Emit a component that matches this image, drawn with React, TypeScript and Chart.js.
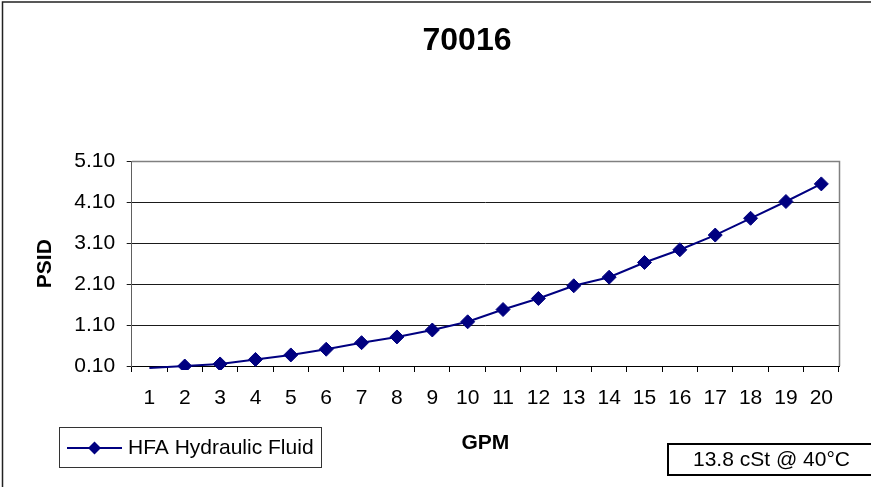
import React, { useEffect, useRef } from "react";
import { Chart, registerables } from "chart.js";

Chart.register(...registerables);

// ---- data ----
const gpmLabels = ["1", "2", "3", "4", "5", "6", "7", "8", "9", "10", "11", "12", "13", "14", "15", "16", "17", "18", "19", "20"];
const psidValues = [0.05, 0.1, 0.15, 0.26, 0.37, 0.51, 0.67, 0.81, 0.98, 1.18, 1.48, 1.75, 2.06, 2.27, 2.63, 2.94, 3.3, 3.71, 4.12, 4.55];
const seriesLabel = "HFA Hydraulic Fluid";
const chartTitle = "70016";
const xTitle = "GPM";
const yTitle = "PSID";
const noteText = "13.8 cSt @ 40°C";
const yMin = 0.1;
const yMax = 5.1;
const yStep = 1;

const FONT = "'Liberation Sans', Arial, Helvetica, sans-serif";
const NAVY = "#000080";

function diamond(ctx: CanvasRenderingContext2D, x: number, y: number, r: number) {
  ctx.beginPath();
  ctx.moveTo(x, y - r);
  ctx.lineTo(x + r, y);
  ctx.lineTo(x, y + r);
  ctx.lineTo(x - r, y);
  ctx.closePath();
  ctx.fill();
}

const decorPlugin = {
  id: "decor",
  afterLayout(chart: any) {
    const t = chart.titleBlock;
    if (t) {
      t.left = 63;
      t.right = 871;
      t.width = 808;
    }
  },
  beforeDatasetsDraw(chart: any) {
    const { ctx, chartArea: a } = chart;
    ctx.save();
    ctx.strokeStyle = "#808080";
    ctx.lineWidth = 1.5;
    ctx.beginPath();
    ctx.moveTo(Math.round(a.left), Math.round(a.top) + 0.5);
    ctx.lineTo(Math.round(a.right) + 0.5, Math.round(a.top) + 0.5);
    ctx.lineTo(Math.round(a.right) + 0.5, Math.round(a.bottom));
    ctx.stroke();
    ctx.restore();
  },
  afterDraw(chart: any) {
    const ctx: CanvasRenderingContext2D = chart.ctx;
    const ds = chart.data.datasets[0];
    ctx.save();
    // outer chart border
    ctx.strokeStyle = "#222";
    ctx.lineWidth = 1.5;
    ctx.beginPath();
    ctx.moveTo(2.5, 600);
    ctx.lineTo(2.5, 2);
    ctx.lineTo(900, 2);
    ctx.stroke();

    // legend box
    ctx.strokeStyle = "#333";
    ctx.lineWidth = 1;
    ctx.fillStyle = "#fff";
    ctx.fillRect(59.5, 427.5, 262, 40);
    ctx.strokeRect(59.5, 427.5, 262, 40);
    ctx.strokeStyle = ds.borderColor;
    ctx.lineWidth = 2;
    ctx.beginPath();
    ctx.moveTo(67, 448);
    ctx.lineTo(122, 448);
    ctx.stroke();
    ctx.fillStyle = ds.pointBackgroundColor;
    diamond(ctx, 94.5, 448, 6.5);
    ctx.fillStyle = "#000";
    ctx.font = `21px ${FONT}`;
    ctx.textBaseline = "middle";
    ctx.textAlign = "left";
    ctx.fillText(ds.label, 128, 448);

    // note box
    ctx.strokeStyle = "#000";
    ctx.lineWidth = 2;
    ctx.strokeRect(668, 444, 240, 31);
    ctx.fillStyle = "#000";
    ctx.fillText(noteText, 693, 460);
    ctx.restore();
  },
};

export default function App() {
  const ref = useRef<HTMLCanvasElement | null>(null);

  useEffect(() => {
    document.body.style.margin = "0";
    const canvas = ref.current;
    if (!canvas) return;
    const chart = new Chart(canvas, {
      type: "line",
      data: {
        labels: gpmLabels,
        datasets: [
          {
            label: seriesLabel,
            data: psidValues,
            borderColor: NAVY,
            backgroundColor: NAVY,
            pointBackgroundColor: NAVY,
            pointBorderColor: NAVY,
            borderWidth: 2,
            pointStyle: "rectRot",
            pointRadius: (c: any) => (c.dataIndex === 0 ? 0 : 7),
            pointBorderWidth: 1,
            tension: 0,
            clip: 4,
          } as any,
        ],
      },
      options: {
        responsive: false,
        animation: false,
        devicePixelRatio: 1,
        layout: { padding: { left: 0, right: 32, top: 0, bottom: 0 } },
        plugins: {
          legend: { display: false },
          tooltip: { enabled: false },
          title: {
            display: true,
            text: chartTitle,
            color: "#000",
            font: { family: FONT, size: 32, weight: "bold" },
            padding: { top: 22, bottom: 101 },
          },
        },
        scales: {
          x: {
            type: "category",
            offset: true,
            grid: {
              display: true,
              drawOnChartArea: false,
              drawTicks: true,
              tickLength: 6,
              offset: true,
              color: "#000",
            },
            border: { display: true, color: "#000", width: 1 },
            ticks: {
              color: "#000",
              font: { family: FONT, size: 21 },
              padding: 14,
              autoSkip: false,
              maxRotation: 0,
            },
            title: {
              display: true,
              text: xTitle,
              color: "#000",
              font: { family: FONT, size: 21, weight: "bold" },
              padding: { top: 0, bottom: 31 },
            },
            afterFit: (s: any) => {
              s.height = 121;
            },
          },
          y: {
            type: "linear",
            min: yMin,
            max: yMax,
            grid: { color: "#1a1a1a", tickLength: 5, drawTicks: true },
            border: { display: true, color: "#606060", width: 1 },
            ticks: {
              stepSize: yStep,
              color: "#000",
              font: { family: FONT, size: 21 },
              padding: 11.5,
              callback: (v: any) => Number(v).toFixed(2),
            },
            title: {
              display: true,
              text: yTitle,
              color: "#000",
              font: { family: FONT, size: 21, weight: "bold" },
              padding: { top: 33, bottom: 0 },
            },
            afterFit: (s: any) => {
              s.width = 131.7;
            },
          },
        },
      } as any,
      plugins: [decorPlugin],
    });
    return () => chart.destroy();
  }, []);

  return (
    <div style={{ position: "fixed", left: 0, top: 0, width: 871, height: 487, background: "#fff" }}>
      <canvas ref={ref} width={871} height={487} style={{ width: 871, height: 487, display: "block" }} />
    </div>
  );
}
